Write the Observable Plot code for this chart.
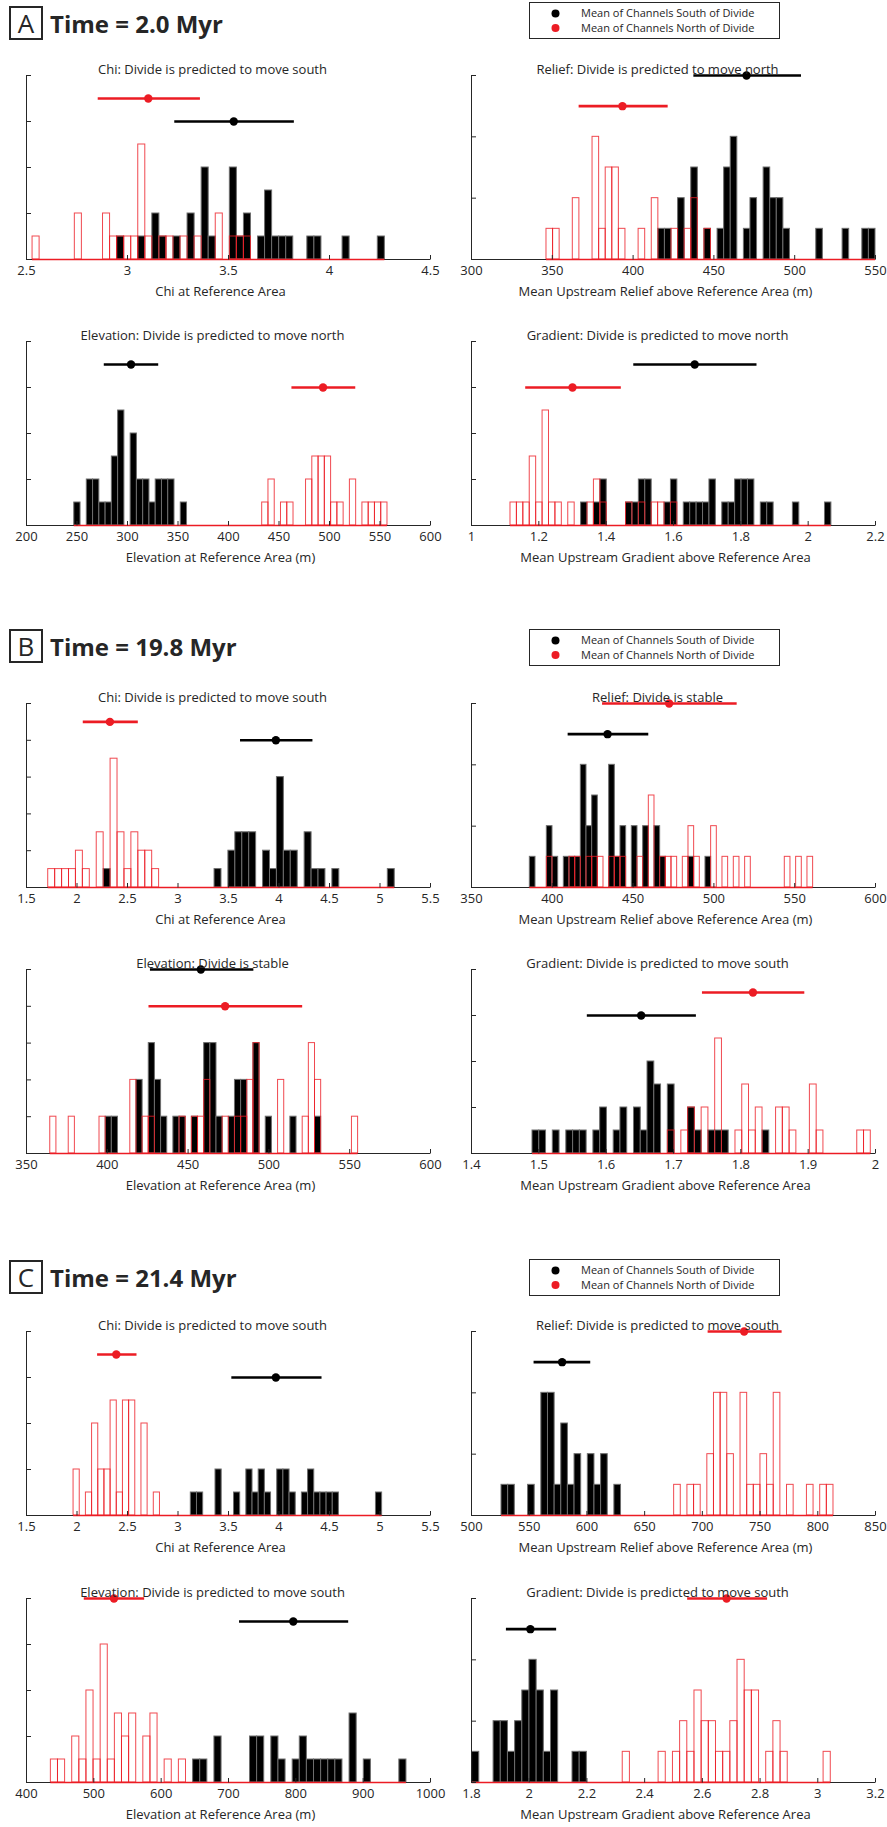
<!DOCTYPE html>
<html><head><meta charset="utf-8">
<script src="https://cdn.jsdelivr.net/npm/d3@7"></script>
<script src="https://cdn.jsdelivr.net/npm/@observablehq/plot@0.6"></script>
<style>
body{margin:0;background:#fff;}
#root{position:relative;width:887px;height:1827px;overflow:hidden;background:#fff;font-family:'Open Sans',sans-serif;}
#root svg{overflow:visible;}
</style></head>
<body><div id="root"></div>
<script>
// ---------- text ----------
const sectionLetters = ["A", "B", "C"];
const sectionTimes = ["Time = 2.0 Myr", "Time = 19.8 Myr", "Time = 21.4 Myr"];
const legendLabels = ["Mean of Channels South of Divide", "Mean of Channels North of Divide"];
const xLabels = ["Chi at Reference Area", "Mean Upstream Relief above Reference Area (m)", "Elevation at Reference Area (m)", "Mean Upstream Gradient above Reference Area"];
const A_titles = ["Chi: Divide is predicted to move south", "Relief: Divide is predicted to move north", "Elevation: Divide is predicted to move north", "Gradient: Divide is predicted to move north"];
const B_titles = ["Chi: Divide is predicted to move south", "Relief: Divide is stable", "Elevation: Divide is stable", "Gradient: Divide is predicted to move south"];
const C_titles = ["Chi: Divide is predicted to move south", "Relief: Divide is predicted to move south", "Elevation: Divide is predicted to move south", "Gradient: Divide is predicted to move south"];

// ---------- tick labels ----------
const A_chi_ticks = [2.5, 3, 3.5, 4, 4.5];
const A_relief_ticks = [300, 350, 400, 450, 500, 550];
const A_elev_ticks = [200, 250, 300, 350, 400, 450, 500, 550, 600];
const A_grad_ticks = [1, 1.2, 1.4, 1.6, 1.8, 2, 2.2];
const B_chi_ticks = [1.5, 2, 2.5, 3, 3.5, 4, 4.5, 5, 5.5];
const B_relief_ticks = [350, 400, 450, 500, 550, 600];
const B_elev_ticks = [350, 400, 450, 500, 550, 600];
const B_grad_ticks = [1.4, 1.5, 1.6, 1.7, 1.8, 1.9, 2];
const C_chi_ticks = [1.5, 2, 2.5, 3, 3.5, 4, 4.5, 5, 5.5];
const C_relief_ticks = [500, 550, 600, 650, 700, 750, 800, 850];
const C_elev_ticks = [400, 500, 600, 700, 800, 900, 1000];
const C_grad_ticks = [1.8, 2, 2.2, 2.4, 2.6, 2.8, 3, 3.2];
// count axis maxima and tick steps (chi, relief, elevation, gradient)
const A_countMax = [8, 6, 8, 8], B_countMax = [10, 6, 5, 8], C_countMax = [8, 6, 8, 6];
const A_countStep = [2, 2, 2, 2], B_countStep = [2, 2, 1, 2], C_countStep = [2, 2, 2, 2];

// ---------- histograms: 50 common bins between edges; [bin index, count] ----------
const A_chi_edges = [2.530, 4.274];
const A_chi_south = [[12,1],[15,1],[17,2],[18,1],[20,1],[22,2],[24,4],[25,1],[28,4],[29,1],[30,2],[32,1],[33,3],[34,1],[35,1],[36,1],[39,1],[40,1],[44,1],[49,1]];
const A_chi_north = [[0,1],[6,2],[10,2],[11,1],[12,1],[13,1],[14,1],[15,5],[16,1],[18,1],[19,1],[21,1],[23,1],[26,2],[28,1],[29,1],[30,1]];
const A_chi_means = [[3.526, 3.234, 3.826, 6], [3.103, 2.855, 3.361, 7]]; // [mean, low, high, count level] south, north

const A_relief_edges = [346.4, 550];
const A_relief_south = [[17,1],[18,1],[20,2],[22,3],[24,1],[26,1],[27,3],[28,4],[30,1],[31,2],[33,3],[34,2],[35,2],[36,1],[41,1],[45,1],[48,1],[49,1]];
const A_relief_north = [[0,1],[1,1],[4,2],[7,4],[8,1],[9,3],[10,3],[11,1],[14,1],[16,2],[19,1],[21,1],[22,2],[24,1]];
const A_relief_means = [[470.2, 437.6, 504.2, 6], [393.4, 366.6, 421.7, 5]];

const A_elev_edges = [247.3, 557.4];
const A_elev_south = [[0,1],[2,2],[3,2],[4,1],[5,1],[6,3],[7,5],[9,4],[10,2],[11,2],[12,1],[13,2],[14,2],[15,2],[17,1]];
const A_elev_north = [[30,1],[31,2],[33,1],[34,1],[37,2],[38,3],[39,3],[40,3],[41,1],[42,1],[44,2],[46,1],[47,1],[48,1],[49,1]];
const A_elev_means = [[303.5, 277.0, 330.9, 7], [493.6, 462.8, 526.0, 6]];

const A_grad_edges = [1.1158, 2.069];
const A_grad_south = [[11,1],[13,1],[14,2],[18,1],[19,1],[20,2],[21,2],[24,1],[25,2],[27,1],[28,1],[29,1],[30,1],[31,2],[33,1],[34,1],[35,2],[36,2],[37,2],[39,1],[40,1],[44,1],[49,1]];
const A_grad_north = [[0,1],[1,1],[2,1],[3,3],[4,1],[5,5],[6,1],[7,1],[9,1],[12,1],[13,2],[14,1],[18,1],[20,1],[22,1],[23,1],[25,1]];
const A_grad_means = [[1.663, 1.482, 1.848, 7], [1.300, 1.161, 1.445, 6]];

const B_chi_edges = [1.715, 5.146];
const B_chi_south = [[8,1],[24,1],[26,2],[27,3],[28,3],[29,3],[31,2],[32,1],[33,6],[34,2],[35,2],[37,3],[38,1],[39,1],[41,1],[49,1]];
const B_chi_north = [[0,1],[1,1],[2,1],[3,1],[4,2],[5,1],[7,3],[9,7],[10,3],[11,1],[12,3],[13,2],[14,2],[15,1]];
const B_chi_means = [[3.969, 3.619, 4.336, 8], [2.326, 2.062, 2.607, 9]];

const B_relief_edges = [386.1, 561.4];
const B_relief_south = [[0,1],[3,2],[4,1],[6,1],[7,1],[8,1],[9,4],[10,2],[11,3],[14,4],[15,1],[16,2],[18,2],[20,2],[22,2],[23,1],[28,1],[31,1]];
const B_relief_north = [[3,1],[7,1],[8,1],[10,1],[11,1],[12,1],[14,1],[15,1],[16,1],[19,1],[21,3],[23,1],[24,1],[25,1],[27,1],[28,2],[29,1],[32,2],[34,1],[36,1],[38,1],[45,1],[47,1],[49,1]];
const B_relief_means = [[434.2, 409.8, 459.7, 5], [472.3, 431.1, 514.4, 6]];

const B_elev_edges = [364.7, 555.2];
const B_elev_south = [[9,1],[10,1],[14,2],[16,3],[17,2],[18,1],[20,1],[21,1],[23,1],[25,3],[26,3],[27,1],[29,1],[30,2],[31,2],[33,3],[35,1],[39,1],[43,1]];
const B_elev_north = [[0,1],[3,1],[8,1],[13,2],[15,1],[16,1],[21,1],[23,1],[24,1],[25,2],[28,1],[30,1],[31,1],[32,2],[33,3],[37,2],[41,1],[42,3],[43,2],[49,1]];
const B_elev_means = [[457.9, 426.7, 490.7, 5], [472.9, 425.8, 520.9, 4]];

const B_grad_edges = [1.4906, 1.993];
const B_grad_south = [[0,1],[1,1],[3,1],[5,1],[6,1],[7,1],[9,1],[10,2],[12,1],[13,2],[15,2],[16,1],[17,4],[18,3],[20,3],[23,2],[24,1],[26,1],[27,1],[28,1],[34,1]];
const B_grad_north = [[20,1],[22,1],[23,2],[25,2],[27,5],[30,1],[31,3],[32,1],[33,2],[36,2],[37,2],[38,1],[41,3],[42,1],[48,1],[49,1]];
const B_grad_means = [[1.652, 1.572, 1.734, 6], [1.818, 1.743, 1.895, 7]];

const C_chi_edges = [1.966, 5.021];
const C_chi_south = [[19,1],[20,1],[23,2],[26,1],[28,2],[29,1],[30,2],[31,1],[33,2],[34,2],[35,1],[37,1],[38,2],[39,1],[40,1],[41,1],[42,1],[49,1]];
const C_chi_north = [[0,2],[2,1],[3,4],[4,2],[5,2],[6,5],[7,1],[8,5],[9,5],[11,4],[13,1]];
const C_chi_means = [[3.969, 3.533, 4.426, 6], [2.389, 2.204, 2.594, 7]];

const C_relief_edges = [526.0, 813.6];
const C_relief_south = [[0,1],[1,1],[4,1],[6,4],[7,4],[8,1],[9,3],[10,1],[11,2],[13,2],[14,1],[15,2],[17,1]];
const C_relief_north = [[26,1],[28,1],[29,1],[31,2],[32,4],[33,4],[34,2],[36,4],[37,1],[38,1],[39,2],[40,1],[41,4],[43,1],[46,1],[48,1],[49,1]];
const C_relief_means = [[578.5, 554.2, 603.3, 5], [736.2, 705.0, 769.1, 6]];

const C_elev_edges = [436.2, 964.3];
const C_elev_south = [[20,1],[21,1],[23,2],[28,2],[29,2],[31,2],[32,1],[34,1],[35,2],[36,1],[37,1],[38,1],[39,1],[40,1],[42,3],[44,1],[49,1]];
const C_elev_north = [[0,1],[1,1],[3,2],[4,1],[5,4],[6,1],[7,6],[8,1],[9,3],[10,2],[11,3],[13,2],[14,3],[16,1],[18,1]];
const C_elev_means = [[796.2, 716.4, 878.5, 7], [529.9, 485.8, 575.5, 8]];

const C_grad_edges = [1.802, 3.045];
const C_grad_south = [[0,1],[3,2],[4,2],[5,1],[6,2],[7,3],[8,4],[9,3],[10,1],[11,3],[14,1],[15,1]];
const C_grad_north = [[21,1],[26,1],[28,1],[29,2],[30,1],[31,3],[32,2],[33,2],[34,1],[35,1],[36,2],[37,4],[38,3],[39,3],[41,1],[42,2],[43,1],[49,1]];
const C_grad_means = [[2.004, 1.921, 2.095, 5], [2.684, 2.549, 2.826, 6]];

// ---------- styling / layout ----------
const RED = "#ec1c24", AX = "#262626", TXT = "#262626";
const FONT = "'Open Sans', sans-serif";
const NBINS = 50;
const FS = 13;
const FW = 404, FH = 184, ML = 16, MR = 14, MT = 34, MB = 46;
const colX = [26, 471];
const rowTops = [[75, 341], [703, 969], [1331, 1598]];
const boxTops = [6, 629, 1260];
const legendTops = [2, 629, 1259];

const sections = [
  {titles: A_titles, countMax: A_countMax, countStep: A_countStep, p: [
    [A_chi_ticks, A_chi_edges, A_chi_south, A_chi_north, A_chi_means],
    [A_relief_ticks, A_relief_edges, A_relief_south, A_relief_north, A_relief_means],
    [A_elev_ticks, A_elev_edges, A_elev_south, A_elev_north, A_elev_means],
    [A_grad_ticks, A_grad_edges, A_grad_south, A_grad_north, A_grad_means]]},
  {titles: B_titles, countMax: B_countMax, countStep: B_countStep, p: [
    [B_chi_ticks, B_chi_edges, B_chi_south, B_chi_north, B_chi_means],
    [B_relief_ticks, B_relief_edges, B_relief_south, B_relief_north, B_relief_means],
    [B_elev_ticks, B_elev_edges, B_elev_south, B_elev_north, B_elev_means],
    [B_grad_ticks, B_grad_edges, B_grad_south, B_grad_north, B_grad_means]]},
  {titles: C_titles, countMax: C_countMax, countStep: C_countStep, p: [
    [C_chi_ticks, C_chi_edges, C_chi_south, C_chi_north, C_chi_means],
    [C_relief_ticks, C_relief_edges, C_relief_south, C_relief_north, C_relief_means],
    [C_elev_ticks, C_elev_edges, C_elev_south, C_elev_north, C_elev_means],
    [C_grad_ticks, C_grad_edges, C_grad_south, C_grad_north, C_grad_means]]}
];

const tickUp = {draw(ctx) { ctx.moveTo(0, 0); ctx.lineTo(0, -4.5); }};
const tickRight = {draw(ctx) { ctx.moveTo(0, 0); ctx.lineTo(4.5, 0); }};

const root = document.getElementById("root");

// header + legend overlay
const ov = d3.select(root).append("svg")
  .attr("width", 887).attr("height", 1827)
  .style("position", "absolute").style("left", "0px").style("top", "0px")
  .style("font-family", FONT);
sections.forEach((s, k) => {
  const bt = boxTops[k];
  ov.append("rect").attr("x", 10).attr("y", bt + 1).attr("width", 32).attr("height", 32)
    .attr("fill", "none").attr("stroke", AX).attr("stroke-width", 2);
  ov.append("text").attr("x", 26).attr("y", bt + 27).attr("text-anchor", "middle")
    .attr("font-size", 26).attr("fill", AX).text(sectionLetters[k]);
  ov.append("text").attr("x", 50).attr("y", bt + 27).attr("font-size", 24)
    .attr("font-weight", 700).attr("fill", AX).text(sectionTimes[k]);
  const lt = legendTops[k];
  ov.append("rect").attr("x", 529.5).attr("y", lt + 0.5).attr("width", 250).attr("height", 36)
    .attr("fill", "#fff").attr("stroke", AX).attr("stroke-width", 1);
  [["#000", 11.5], [RED, 26]].forEach(([c, dy], j) => {
    ov.append("circle").attr("cx", 555.5).attr("cy", lt + dy).attr("r", 4).attr("fill", c);
    ov.append("text").attr("x", 581).attr("y", lt + dy).attr("dy", "0.35em")
      .attr("font-size", 11).attr("fill", AX).text(legendLabels[j]);
  });
});

function drawPanel([xticks, edges, south, north, means], title, xlabel, ymax, ystep, fx, fy) {
  const w = (edges[1] - edges[0]) / NBINS;
  const bins = arr => arr.map(([i, c]) => ({x1: edges[0] + i * w, x2: edges[0] + (i + 1) * w, c}));
  const domain = [xticks[0], xticks[xticks.length - 1]];
  const yticks = d3.range(0, ymax + 1e-9, ystep);
  const svg = Plot.plot({
    width: FW + ML + MR, height: FH + MT + MB,
    marginLeft: ML, marginRight: MR, marginTop: MT, marginBottom: MB,
    x: {domain, axis: null}, y: {domain: [0, ymax], axis: null},
    style: {background: "transparent", overflow: "visible", fontFamily: FONT},
    marks: [
      Plot.rect(bins(south), {x1: "x1", x2: "x2", y1: () => 0, y2: "c", fill: "#000", stroke: "#6e6e6e", strokeWidth: 1}),
      Plot.rect(bins(north), {x1: "x1", x2: "x2", y1: () => 0, y2: "c", fill: "none", stroke: RED, strokeOpacity: 0.8, strokeWidth: 1}),
      Plot.ruleY([0], {stroke: AX, strokeWidth: 1}),
      Plot.ruleX([domain[0]], {stroke: AX, strokeWidth: 1}),
      Plot.ruleY([edges], {y: () => 0, x1: d => d[0], x2: d => d[1], stroke: RED, strokeWidth: 1.6}),
      Plot.dot(xticks, {x: d => d, y: () => 0, symbol: tickUp, r: 3, fill: "none", stroke: AX, strokeWidth: 1}),
      Plot.dot(yticks, {x: () => domain[0], y: d => d, symbol: tickRight, r: 3, fill: "none", stroke: AX, strokeWidth: 1}),
      Plot.text(xticks, {x: d => d, frameAnchor: "bottom", dy: 15, text: d => String(d), fontSize: FS, fill: TXT}),
      Plot.ruleY([means[0]], {y: d => d[3], x1: d => d[1], x2: d => d[2], stroke: "#000", strokeWidth: 2.6}),
      Plot.dot([means[0]], {x: d => d[0], y: d => d[3], r: 4.2, fill: "#000", stroke: "none"}),
      Plot.ruleY([means[1]], {y: d => d[3], x1: d => d[1], x2: d => d[2], stroke: RED, strokeWidth: 2.6}),
      Plot.dot([means[1]], {x: d => d[0], y: d => d[3], r: 4.2, fill: RED, stroke: "none"}),
      Plot.text([title], {text: d => d, frameAnchor: "top", dx: -16, dy: -11, fontSize: FS, fill: TXT}),
      Plot.text([xlabel], {text: d => d, frameAnchor: "bottom", dx: -8, dy: 36, fontSize: FS, fill: TXT})
    ]
  });
  svg.style.position = "absolute";
  svg.style.left = (fx - ML) + "px";
  svg.style.top = (fy - MT) + "px";
  svg.style.maxWidth = "none";
  root.appendChild(svg);
}

sections.forEach((s, k) => {
  s.p.forEach((pd, j) => {
    const col = j % 2, row = Math.floor(j / 2);
    drawPanel(pd, s.titles[j], xLabels[j], s.countMax[j], s.countStep[j], colX[col], rowTops[k][row]);
  });
});
</script></body></html>
